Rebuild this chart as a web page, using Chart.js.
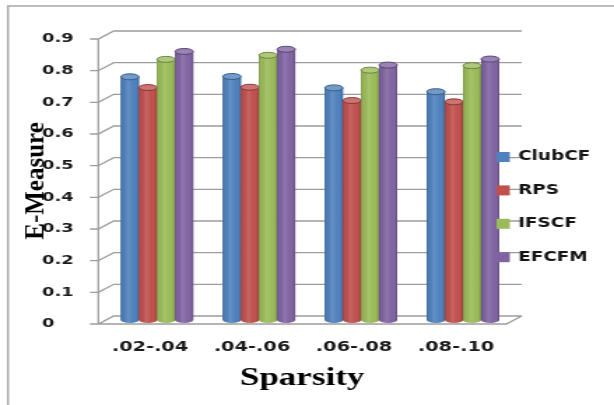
<!DOCTYPE html>
<html>
<head>
    <title>E-Measure vs Sparsity</title>
    <script src="https://cdn.jsdelivr.net/npm/chart.js"></script>
    <style>
        body {
            margin: 0;
            background: #fff;
            overflow: hidden;
        }

        /* the chart is laid out narrow and stretched sideways */
        .chart-box {
            width: 439px;
            height: 405px;
            transform: scaleX(1.39863);
            transform-origin: 0 0;
        }
    </style>
</head>
<body>
    <div class="chart-box"><canvas id="emChart"></canvas></div>

    <script>
        const sparsity = ['.02-.04', '.04-.06', '.06-.08', '.08-.10'];
        const methods = ['ClubCF', 'RPS', 'IFSCF', 'EFCFM'];
        const clubcf = [0.768, 0.769, 0.733, 0.721];
        const rps = [0.734, 0.735, 0.693, 0.689];
        const ifscf = [0.823, 0.836, 0.789, 0.803];
        const efcfm = [0.848, 0.855, 0.805, 0.824];
        const colors = ['#4F81BD', '#C0504D', '#9BBB59', '#8064A2'];

        const S = 614 / 439;   // horizontal stretch of .chart-box
        const D = 5.5;         // depth shift, x
        const DY = 4;          // depth shift, y

        function shade(hex, f) {
            const n = parseInt(hex.slice(1), 16);
            let r = n >> 16, g = (n >> 8) & 255, b = n & 255;
            const t = f < 0 ? 0 : 255, p = Math.abs(f);
            r = Math.round((t - r) * p + r);
            g = Math.round((t - g) * p + g);
            b = Math.round((t - b) * p + b);
            return `rgb(${r},${g},${b})`;
        }

        // grey frame, side wall and back wall grid
        const walls = {
            id: 'walls',
            beforeDraw(chart) {
                const ctx = chart.ctx;
                ctx.save();
                ctx.strokeStyle = '#a8a8a8';
                ctx.lineWidth = 1.5;
                ctx.strokeRect(5.7, 6, 600, 500);
                ctx.restore();
            },
            beforeDatasetsDraw(chart) {
                const { ctx, chartArea: a, scales: { y } } = chart;
                ctx.save();
                ctx.strokeStyle = '#9c9c9c';
                ctx.lineWidth = 1.3;
                ctx.beginPath();
                y.ticks.forEach(t => {
                    const py = y.getPixelForValue(t.value);
                    ctx.moveTo(a.left - D - 6, py + DY);
                    ctx.lineTo(a.left - D, py + DY);
                    ctx.lineTo(a.left + D, py - DY);
                    ctx.lineTo(a.right + D, py - DY);
                });
                const top = y.getPixelForValue(y.max);
                const bot = y.getPixelForValue(0);
                ctx.moveTo(a.left - D, top + DY);
                ctx.lineTo(a.left - D, bot + DY);
                ctx.lineTo(a.right - D, bot + DY);
                ctx.lineTo(a.right + D, bot - DY);
                ctx.stroke();
                ctx.restore();
            }
        };

        // turn the flat bars into shaded cylinders
        const cylinders = {
            id: 'cylinders',
            afterDatasetsDraw(chart) {
                const ctx = chart.ctx;
                chart.data.datasets.forEach((ds, i) => {
                    const col = ds.backgroundColor;
                    chart.getDatasetMeta(i).data.forEach(bar => {
                        const { x, y, base, width } = bar.getProps(['x', 'y', 'base', 'width'], true);
                        const l = x - width / 2, r = x + width / 2, rx = width / 2, ry = 3;
                        ctx.save();
                        ctx.beginPath();
                        ctx.moveTo(l, y);
                        ctx.lineTo(l, base);
                        ctx.ellipse(x, base, rx, ry, 0, Math.PI, 0, true);
                        ctx.lineTo(r, y);
                        ctx.closePath();
                        ctx.fillStyle = col;
                        ctx.fill();
                        const g = ctx.createLinearGradient(l, 0, r, 0);
                        g.addColorStop(0, 'rgba(0,0,0,0.22)');
                        g.addColorStop(0.1, 'rgba(0,0,0,0.04)');
                        g.addColorStop(0.4, 'rgba(255,255,255,0.12)');
                        g.addColorStop(0.7, 'rgba(255,255,255,0)');
                        g.addColorStop(0.92, 'rgba(0,0,0,0.08)');
                        g.addColorStop(1, 'rgba(0,0,0,0.26)');
                        ctx.fillStyle = g;
                        ctx.fill();

                        ctx.beginPath();
                        ctx.ellipse(x, y, rx, ry, 0, 0, Math.PI * 2);
                        ctx.fillStyle = shade(col, 0.2);
                        ctx.fill();
                        ctx.strokeStyle = shade(col, -0.3);
                        ctx.lineWidth = 1;
                        ctx.stroke();
                        ctx.restore();
                    });
                });
            }
        };

        // legend over the right of the plot, plus both axis titles
        const extras = {
            id: 'extras',
            afterDraw(chart) {
                const ctx = chart.ctx;
                ctx.save();
                ctx.textBaseline = 'middle';
                ctx.font = 'bold 13.2px "DejaVu Sans"';
                chart.data.datasets.forEach((ds, i) => {
                    const cy = 157 + i * 33.4;
                    ctx.fillStyle = ds.backgroundColor;
                    ctx.fillRect(355, cy - 5, 9.5, 10);
                    ctx.fillStyle = '#151515';
                    ctx.fillText(ds.label, 370.4, cy);
                });

                ctx.fillStyle = '#000';
                ctx.textBaseline = 'alphabetic';
                ctx.textAlign = 'center';
                ctx.font = 'bold 25px "Liberation Serif"';
                ctx.fillText('Sparsity', 216, 385);

                // y title is kept unstretched
                ctx.translate(44 / S, 181);
                ctx.scale(1 / S, 1);
                ctx.rotate(-Math.PI / 2);
                ctx.font = 'bold 25px "Liberation Serif"';
                ctx.fillText('E-Measure', 0, 0);
                ctx.restore();
            }
        };

        const series = [clubcf, rps, ifscf, efcfm];

        new Chart(document.getElementById('emChart'), {
            type: 'bar',
            data: {
                labels: sparsity,
                datasets: series.map((vals, i) => ({
                    label: methods[i],
                    data: vals,
                    backgroundColor: colors[i],
                    barPercentage: 1,
                    categoryPercentage: 0.71
                }))
            },
            options: {
                responsive: true,
                maintainAspectRatio: false,
                animation: false,
                layout: { padding: { left: 30, right: 71.5, top: 35, bottom: 25 } },
                plugins: {
                    legend: { display: false },
                    tooltip: { enabled: false }
                },
                scales: {
                    x: {
                        grid: { display: false, drawTicks: false },
                        border: { display: false },
                        ticks: {
                            color: '#1a1a1a',
                            font: { family: 'DejaVu Sans', size: 13.8, weight: 'bold' },
                            labelOffset: -5,
                            padding: 19,
                            maxRotation: 0
                        },
                        afterFit: s => { s.height = 60; }
                    },
                    y: {
                        min: 0,
                        max: 0.9,
                        grid: { display: false, drawTicks: false },
                        border: { display: false },
                        ticks: {
                            stepSize: 0.1,
                            color: '#1a1a1a',
                            font: { family: 'DejaVu Sans', size: 12.8, weight: 'bold' },
                            crossAlign: 'far',
                            labelOffset: 4,
                            callback: v => v === 0 ? '0' : v.toFixed(1)
                        },
                        afterFit: s => { s.width = 45.8; }
                    }
                }
            },
            plugins: [walls, cylinders, extras]
        });
    </script>
</body>
</html>
